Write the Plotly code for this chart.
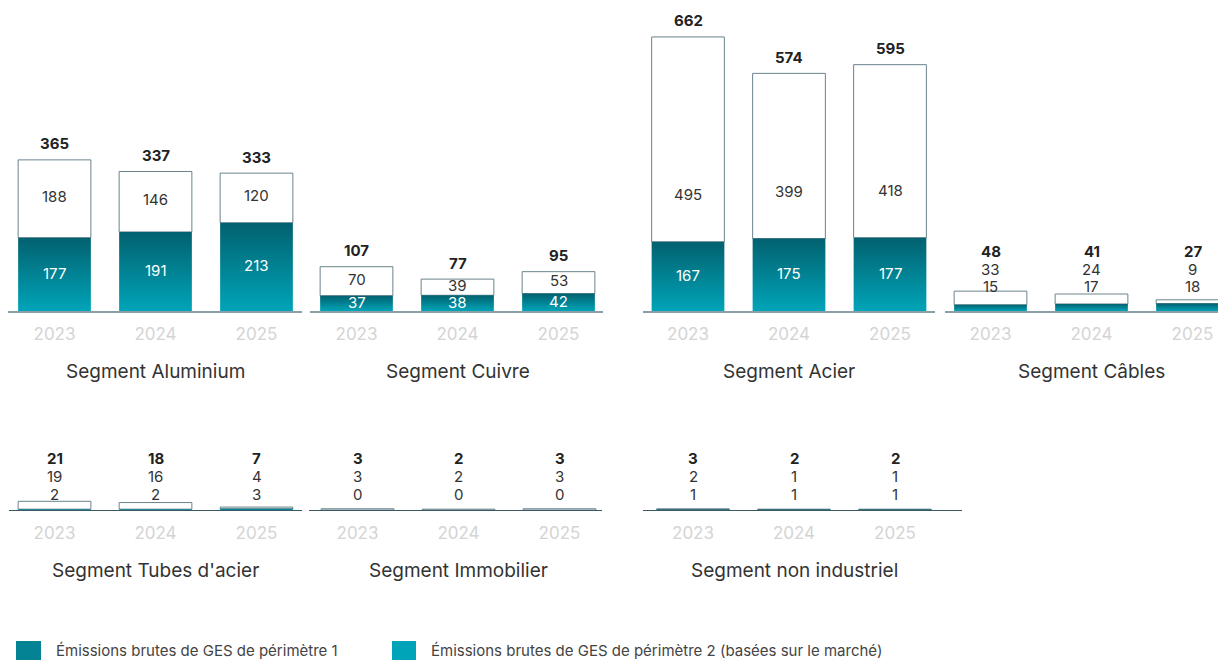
import plotly.graph_objects as go

# ---------------------------------------------------------------- data ---------------------------------------------#
years = ['2023', '2024', '2025']
segments = ['Segment Aluminium', 'Segment Cuivre', 'Segment Acier', 'Segment Câbles',
            "Segment Tubes d'acier", 'Segment Immobilier', 'Segment non industriel']

# bottom (teal) part of the bar
scope1 = [
    [177, 191, 213],
    [37, 38, 42],
    [167, 175, 177],
    [15, 17, 18],
    [2, 2, 3],
    [0, 0, 0],
    [1, 1, 1],
]
# top (white) part of the bar
scope2 = [
    [188, 146, 120],
    [70, 39, 53],
    [495, 399, 418],
    [33, 24, 9],
    [19, 16, 4],
    [3, 2, 3],
    [2, 1, 1],
]
# totals printed above the bars
totals = [
    [365, 337, 333],
    [107, 77, 95],
    [662, 574, 595],
    [48, 41, 27],
    [21, 18, 7],
    [3, 2, 3],
    [3, 2, 2],
]
legend_labels = ['Émissions brutes de GES de périmètre 1',
                 'Émissions brutes de GES de périmètre 2 (basées sur le marché)']
# ---------------------------------------------------------------- data ---------------------------------------------#

# the page body has an 8px margin, so the figure is 8px smaller and every
# position below (given in screen px) is shifted back by OFF
OFF = 8
W, H = 1226 - OFF, 660 - OFF
FONT = 'Inter'
DARK = '#02616F'
CYAN = '#00A4B8'
PX_PER_UNIT = 0.414   # same vertical scale for every panel
STEP = 101            # px between bar centres
BAR_W = 0.72
LABEL_CAP = 45 / PX_PER_UNIT   # white label never sits more than ~45px above the teal part


def fx(px):
    return (px - OFF) / W


def fy(py):
    return 1 - (py - OFF) / H


# panel placement in screen px: axis line left/right, first bar centre, row
panels = [
    (8, 302, 54.5, 0),
    (310, 603, 356.5, 0),
    (643, 935, 688, 0),
    (945, 1226, 990.5, 0),
    (9, 302, 54.5, 1),
    (309, 602, 357.5, 1),
    (643, 962, 693, 1),
]
rows = {
    0: dict(base=311, top=OFF, line='#8C9EA6', lw=2, small=(25, 42, 60), title=371),
    1: dict(base=510, top=330, line='#3A5962', lw=1.2, small=(16, 34, 52), title=570),
}

fig = go.Figure()
annotations = []
layout_axes = {}

for k, seg in enumerate(segments):
    L, R, c0, row = panels[k]
    r = rows[row]
    xa = 'x' if k == 0 else f'x{k + 1}'
    ya = 'y' if k == 0 else f'y{k + 1}'
    xs = list(range(len(years)))

    # teal part, vertical gradient per bar
    for i, v in enumerate(scope1[k]):
        fig.add_trace(go.Scatter(
            x=[i - BAR_W / 2, i - BAR_W / 2, i + BAR_W / 2, i + BAR_W / 2, i - BAR_W / 2],
            y=[0, v, v, 0, 0],
            mode='lines', fill='toself', line=dict(width=0),
            fillgradient=dict(type='vertical', colorscale=[[0, CYAN], [1, DARK]],
                              start=0, stop=max(v, 1)),
            xaxis=xa, yaxis=ya, showlegend=False, hoverinfo='skip',
        ))
    # white part on top
    fig.add_trace(go.Bar(
        x=xs, y=scope2[k], base=scope1[k], width=BAR_W,
        marker=dict(color='white', line=dict(color='#6A838C', width=1)),
        xaxis=xa, yaxis=ya, showlegend=False, hoverinfo='skip',
    ))

    for i in xs:
        s1, s2, tot = scope1[k][i], scope2[k][i], totals[k][i]
        if min(s1, s2) >= 35:
            annotations += [
                dict(x=i, y=s1 / 2, xref=xa, yref=ya, text=str(s1), showarrow=False,
                     yshift=1, font=dict(family=FONT, size=15, color='white')),
                dict(x=i, y=s1 + min(s2 / 2, LABEL_CAP), xref=xa, yref=ya, text=str(s2),
                     showarrow=False, yshift=2,
                     font=dict(family=FONT, size=15, color='#333333')),
                dict(x=i, y=tot, xref=xa, yref=ya, text=f'<b>{tot}</b>', showarrow=False,
                     yshift=16, font=dict(family=FONT, size=15, color='#222222')),
            ]
        else:
            o1, o2, o3 = r['small']
            annotations += [
                dict(x=i, y=0, xref=xa, yref=ya, text=str(s1), showarrow=False,
                     yshift=o1, font=dict(family=FONT, size=15, color='#333333')),
                dict(x=i, y=0, xref=xa, yref=ya, text=str(s2), showarrow=False,
                     yshift=o2, font=dict(family=FONT, size=15, color='#333333')),
                dict(x=i, y=0, xref=xa, yref=ya, text=f'<b>{tot}</b>', showarrow=False,
                     yshift=o3, font=dict(family=FONT, size=15, color='#222222')),
            ]

    # segment title
    annotations.append(dict(x=1, y=fy(r['title']), xref=xa, yref='paper', text=seg,
                            showarrow=False, yanchor='middle',
                            font=dict(family=FONT, size=19, color='#333333')))

    xkey = 'xaxis' if k == 0 else f'xaxis{k + 1}'
    ykey = 'yaxis' if k == 0 else f'yaxis{k + 1}'
    layout_axes[xkey] = dict(
        domain=[max(fx(L), 0), min(fx(R), 1)], anchor=ya,
        range=[(max(L, OFF) - c0) / STEP, (R - c0) / STEP],
        tickmode='array', tickvals=xs, ticktext=years, ticks='',
        ticklabelstandoff=7,
        tickfont=dict(family=FONT, size=17, color='#D4D4D4'),
        showline=True, linecolor=r['line'], linewidth=r['lw'],
        showgrid=False, zeroline=False, fixedrange=True,
    )
    layout_axes[ykey] = dict(
        domain=[fy(r['base']), fy(r['top'])], anchor=xa,
        range=[0, (r['base'] - r['top']) / PX_PER_UNIT],
        visible=False, fixedrange=True,
    )

# legend drawn by hand
shapes = [
    dict(type='rect', xref='paper', yref='paper', x0=fx(16), x1=fx(41),
         y0=0, y1=fy(641), fillcolor='#048394', line=dict(width=0)),
    dict(type='rect', xref='paper', yref='paper', x0=fx(392), x1=fx(416),
         y0=0, y1=fy(641), fillcolor=CYAN, line=dict(width=0)),
]
for lx, txt in zip([55, 430], legend_labels):
    annotations.append(dict(x=fx(lx), y=fy(650), xref='paper', yref='paper', text=txt,
                            showarrow=False, xanchor='left', yanchor='middle', borderpad=0,
                            font=dict(family=FONT, size=15, color='#444444')))

fig.update_layout(
    width=W, height=H,
    margin=dict(l=0, r=0, t=0, b=0),
    plot_bgcolor='white', paper_bgcolor='white',
    barmode='overlay',
    annotations=annotations,
    shapes=shapes,
    **layout_axes,
)

fig.write_html("out.html")
